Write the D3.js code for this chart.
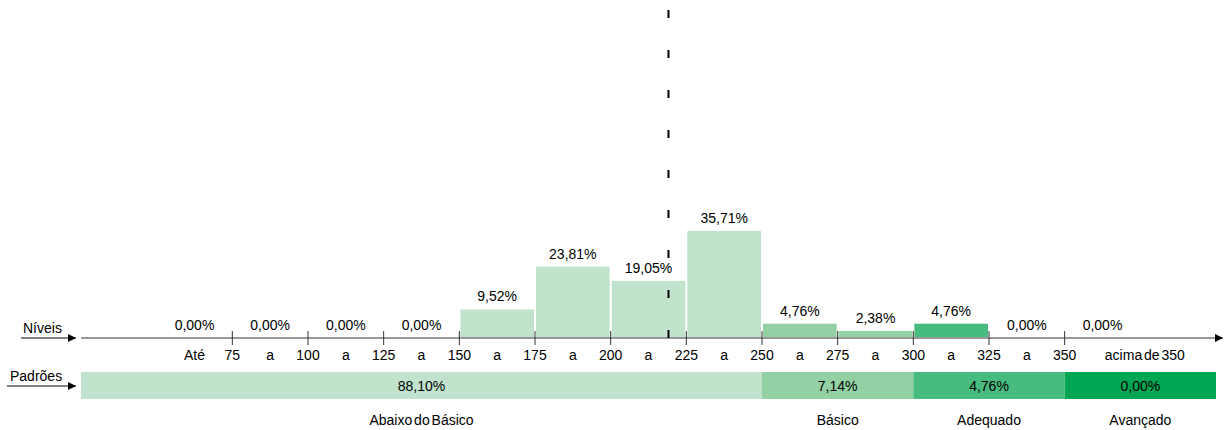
<!DOCTYPE html>
<html>
<head>
<meta charset="utf-8">
<script src="https://cdn.jsdelivr.net/npm/d3@7"></script>
<style>
  body { margin: 0; background: #fff; }
  text { font-family: "Liberation Sans", Arial, sans-serif; font-size: 14px; fill: #000; }
</style>
</head>
<body>
<div id="chart"></div>
<script>
// bins of proficiency (start, end) and % of students per bin
var binStarts = [50, 75, 100, 125, 150, 175, 200, 225, 250, 275, 300, 325, 350];
var binValues = [0, 0, 0, 0, 9.52, 23.81, 19.05, 35.71, 4.76, 2.38, 4.76, 0, 0];
var binLabels = ["0,00%", "0,00%", "0,00%", "0,00%", "9,52%", "23,81%", "19,05%", "35,71%", "4,76%", "2,38%", "4,76%", "0,00%", "0,00%"];
var tickValues = [75, 100, 125, 150, 175, 200, 225, 250, 275, 300, 325, 350];

// performance standards
var levelNames = ["Abaixo do Básico", "Básico", "Adequado", "Avançado"];
var levelRanges = [[25, 250], [250, 300], [300, 350], [350, 400]];
var levelValues = ["88,10%", "7,14%", "4,76%", "0,00%"];
var levelColors = ["#c1e3cc", "#93d1a5", "#48bb7e", "#00a651"];

var meanScore = 219.1;

var width = 1228, height = 430;
var axisY = 338;

var svg = d3.select("#chart").append("svg")
  .attr("width", width).attr("height", height);

var x = d3.scaleLinear().domain([25, 400]).range([81, 1216]);
var y = d3.scaleLinear().domain([0, 100]).range([axisY, axisY - 300]);

function levelOf(v) {
  for (var i = 0; i < levelRanges.length; i++) {
    if (v >= levelRanges[i][0] && v < levelRanges[i][1]) return i;
  }
  return levelRanges.length - 1;
}

var defs = svg.append("defs");
defs.append("marker")
  .attr("id", "arrow")
  .attr("viewBox", "0 0 10 10")
  .attr("refX", 10).attr("refY", 5)
  .attr("markerWidth", 10).attr("markerHeight", 8)
  .attr("markerUnits", "userSpaceOnUse")
  .attr("orient", "auto")
  .append("path").attr("d", "M0,0 L10,5 L0,10 Z").attr("fill", "#000");

// histogram bars
svg.append("g").selectAll("rect")
  .data(binStarts)
  .enter().append("rect")
  .attr("x", function(d){ return x(d) + 1; })
  .attr("y", function(d, i){ return y(binValues[i]); })
  .attr("width", function(d){ return x(d + 25) - x(d) - 2; })
  .attr("height", function(d, i){ return Math.max(0, y(0) - y(binValues[i]) - 1); })
  .style("fill", function(d){ return levelColors[levelOf(d)]; });

// value labels
svg.append("g").selectAll("text")
  .data(binStarts)
  .enter().append("text")
  .attr("x", function(d){ return x(d + 12.5); })
  .attr("y", function(d, i){ return Math.min(y(binValues[i]) - 8, axisY - 8); })
  .attr("text-anchor", "middle")
  .text(function(d, i){ return binLabels[i]; });

// main axis line with arrow
svg.append("line")
  .attr("x1", x(25)).attr("x2", 1223)
  .attr("y1", axisY).attr("y2", axisY)
  .attr("stroke", "#333").attr("stroke-width", 1)
  .attr("marker-end", "url(#arrow)");

// ticks
svg.append("g").selectAll("line")
  .data(tickValues)
  .enter().append("line")
  .attr("x1", function(d){ return x(d); }).attr("x2", function(d){ return x(d); })
  .attr("y1", axisY - 7).attr("y2", axisY + 7)
  .attr("stroke", "#333");

// tick labels: numbers at ticks, "a" between
var tickRow = svg.append("g").attr("transform", "translate(0," + (axisY + 22) + ")");
tickRow.selectAll("text.num")
  .data(tickValues)
  .enter().append("text")
  .attr("x", function(d){ return x(d); })
  .attr("text-anchor", "middle")
  .text(function(d){ return d; });
tickRow.selectAll("text.a")
  .data(tickValues.slice(0, -1))
  .enter().append("text")
  .attr("x", function(d){ return x(d + 12.5); })
  .attr("text-anchor", "middle")
  .text("a");
tickRow.append("text").attr("x", x(62.5)).attr("text-anchor", "middle").text("Até");
tickRow.append("text").attr("x", x(376.5)).attr("text-anchor", "middle")
  .style("word-spacing", "-2px").text("acima de 350");

// mean score dashed line
svg.append("line")
  .attr("x1", x(meanScore)).attr("x2", x(meanScore))
  .attr("y1", 10).attr("y2", axisY)
  .attr("stroke", "#000").attr("stroke-width", 2)
  .attr("stroke-dasharray", "8,32");

// standards bar
var barY = 372, barH = 27;
svg.append("g").selectAll("rect")
  .data(levelRanges)
  .enter().append("rect")
  .attr("x", function(d){ return x(d[0]); })
  .attr("y", barY)
  .attr("width", function(d){ return x(d[1]) - x(d[0]); })
  .attr("height", barH)
  .style("fill", function(d, i){ return levelColors[i]; });

svg.append("g").selectAll("text")
  .data(levelRanges)
  .enter().append("text")
  .attr("x", function(d){ return x((d[0] + d[1]) / 2); })
  .attr("y", barY + barH / 2 + 5)
  .attr("text-anchor", "middle")
  .text(function(d, i){ return levelValues[i]; });

svg.append("g").selectAll("text")
  .data(levelRanges)
  .enter().append("text")
  .attr("x", function(d){ return x((d[0] + d[1]) / 2); })
  .attr("y", 425)
  .attr("text-anchor", "middle")
  .style("word-spacing", "-2px")
  .text(function(d, i){ return levelNames[i]; });

// row headers with arrows
svg.append("text").attr("x", 23).attr("y", 333).text("Níveis");
svg.append("line").attr("x1", 21).attr("x2", 76).attr("y1", axisY).attr("y2", axisY)
  .attr("stroke", "#000").attr("marker-end", "url(#arrow)");
svg.append("text").attr("x", 10).attr("y", 381).text("Padrões");
svg.append("line").attr("x1", 7).attr("x2", 76).attr("y1", 386).attr("y2", 386)
  .attr("stroke", "#000").attr("marker-end", "url(#arrow)");
</script>
</body>
</html>
